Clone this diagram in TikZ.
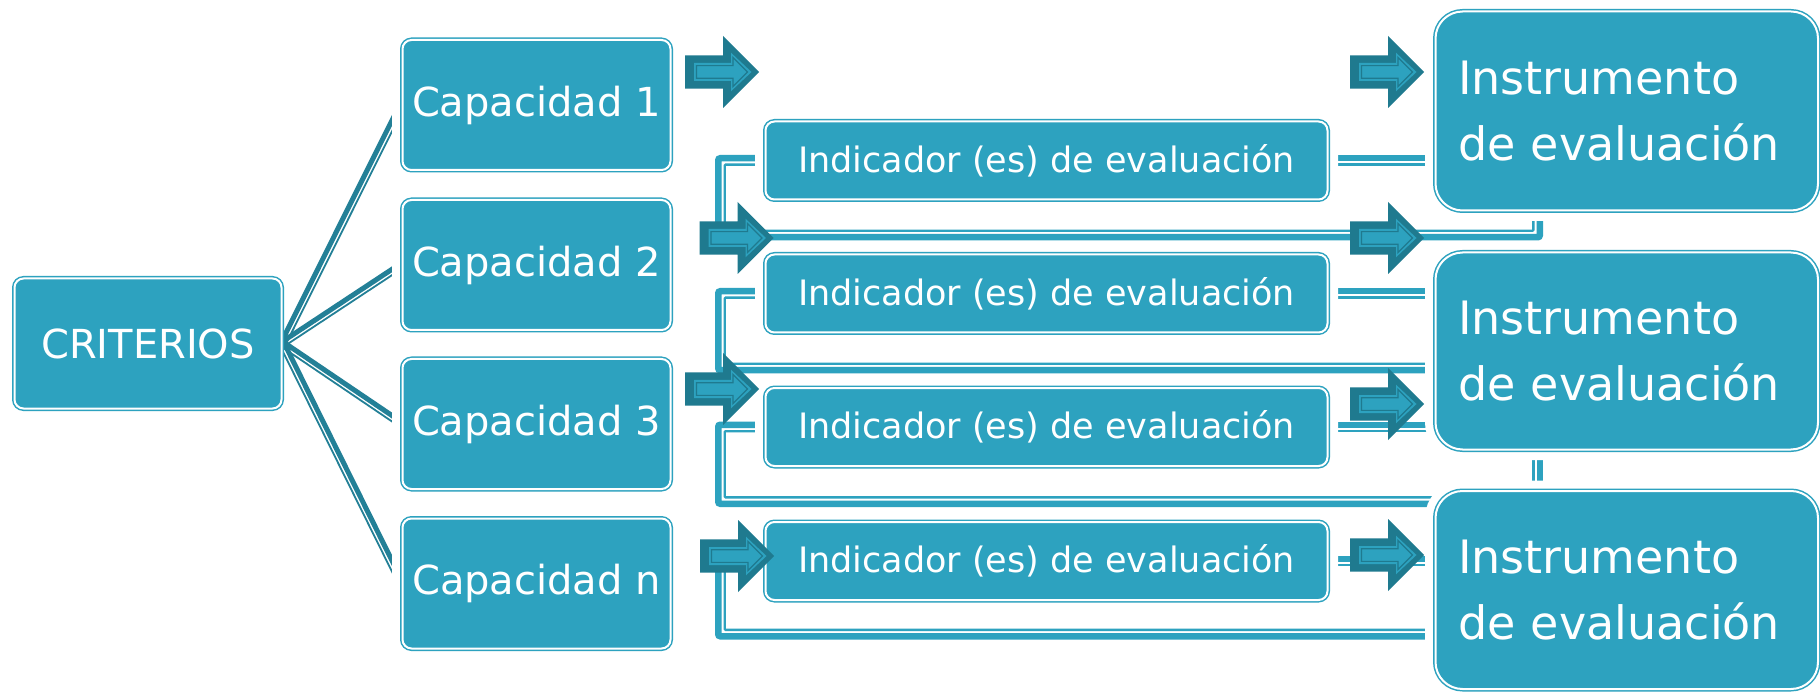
\documentclass[tikz,border=0pt]{standalone}
\usepackage{fontspec}
\setmainfont{DejaVu Sans}
\usetikzlibrary{calc}
\definecolor{boxc}{RGB}{45,162,191}
\definecolor{darkc}{RGB}{31,122,143}
\definecolor{critc}{RGB}{35,128,151}
\pgfdeclarelayer{bg}
\pgfsetlayers{bg,main}
\tikzset{
  halo/.style={preaction={draw=white, line width=21pt}},
  boxbase/.style={preaction={draw=boxc, line width=5pt}, fill=boxc, draw=white, line width=2pt, text=white, inner sep=0pt},
  critbox/.style={boxbase, rounded corners=9pt, minimum width=267pt, minimum height=130pt, font=\fontsize{40}{48}\selectfont},
  capbox/.style={halo, boxbase, rounded corners=9pt, minimum width=268pt, minimum height=130pt, font=\fontsize{40}{48}\selectfont},
  indbox/.style={halo, boxbase, rounded corners=9pt, minimum width=562pt, minimum height=78pt, font=\fontsize{35}{42}\selectfont},
  instbox/.style={halo, boxbase, rounded corners=27pt, text width=337.5pt, inner xsep=22.5pt, align=left, font=\fontsize{46}{66}\selectfont},
  thk/.style={draw=boxc, line width=6.5pt, rounded corners=2pt},
  thn/.style={draw=boxc, line width=2.3pt, rounded corners=1pt},
  cthk/.style={draw=critc, line width=5pt},
  cthn/.style={draw=critc, line width=1.8pt},
  barrow/.pic={
    \fill[darkc] (0,-16.7) -- (38,-16.7) -- (38,-36) -- (74,0) -- (38,36) -- (38,16.7) -- (0,16.7) -- cycle;
    \fill[boxc] (9,-9) -- (46,-9) -- (46,-19.3) -- (66.5,0) -- (46,19.3) -- (46,9) -- (9,9) -- cycle;
    \draw[darkc, line width=1.1pt] (11.5,-6.3) -- (48,-6.3) -- (48,-14.5) -- (62.5,0) -- (48,14.5) -- (48,6.3) -- (11.5,6.3) -- cycle;
  }
}
\newcommand\critlink[1]{%
  \draw[cthk] ($(crit.east)!1.65pt!90:(#1.west)$) -- ($(#1.west)!1.65pt!-90:(crit.east)$);
  \draw[cthn] ($(crit.east)!3.25pt!-90:(#1.west)$) -- ($(#1.west)!3.25pt!90:(crit.east)$);}
\begin{document}
\begin{tikzpicture}[x=1pt,y=-1pt]
\useasboundingbox (0,0) rectangle (1820,692);

% boxes
\node[critbox] (crit) at (148,343.5) {CRITERIOS};
\node[capbox] (cap1) at (536.5,105) {Capacidad 1};
\node[capbox] (cap2) at (536.5,265) {Capacidad 2};
\node[capbox] (cap3) at (536.5,424) {Capacidad 3};
\node[capbox] (capn) at (536.5,583.5) {Capacidad n};
\node[indbox] (ind1) at (1046.5,160.5) {Indicador (es) de evaluación};
\node[indbox] (ind2) at (1046.5,293.5) {Indicador (es) de evaluación};
\node[indbox] (ind3) at (1046.5,427) {Indicador (es) de evaluación};
\node[indbox] (ind4) at (1046.5,561) {Indicador (es) de evaluación};
\node[instbox, minimum height=199pt] (inst1) at (1626.75,111) {Instrumento\\de evaluación};
\node[instbox, minimum height=197pt] (inst2) at (1626.75,351) {Instrumento\\de evaluación};
\node[instbox, minimum height=198pt] (inst3) at (1626.75,590) {Instrumento\\de evaluación};

% connectors (behind the boxes)
\coordinate (c1a) at (720.5,235);
\coordinate (c1b) at (1537.5,235);
\coordinate (c2a) at (720.5,368);
\coordinate (c3a) at (720.5,501.5);
\coordinate (c4a) at (720.5,634);
\begin{pgfonlayer}{bg}
  \fill[white] (0,0) rectangle (1820,692);
  \critlink{cap1}
  \critlink{cap2}
  \critlink{cap3}
  \critlink{capn}
  % indicator 1 to instrument 1
  \draw[thk] ($(ind1.west)+(0,-2.25)$) -| ($(c1a)+(-2.25,2.25)$) -| ($(c1b |- inst1.center)+(2.25,0)$);
  \draw[thn] ($(ind1.west)+(0,4.15)$) -| ($(c1a)+(4.15,-4.15)$) -| ($(c1b |- inst1.center)+(-4.15,0)$);
  % indicator 2 to instrument 2
  \draw[thk] ($(ind2.west)+(0,-2.25)$) -| ($(c2a)+(-2.25,2.25)$) -- ($(c2a -| inst2.center)+(0,2.25)$);
  \draw[thn] ($(ind2.west)+(0,4.15)$) -| ($(c2a)+(4.15,-4.15)$) -- ($(c2a -| inst2.center)+(0,-4.15)$);
  % indicator 3 to instrument 3
  \draw[thk] ($(ind3.west)+(0,-2.25)$) -| ($(c3a)+(-2.25,2.25)$) -- ($(c3a -| inst3.center)+(0,2.25)$);
  \draw[thn] ($(ind3.west)+(0,4.15)$) -| ($(c3a)+(4.15,-4.15)$) -- ($(c3a -| inst3.center)+(0,-4.15)$);
  % indicator 4 to instrument 3
  \draw[thk] ($(ind4.west)+(0,-2.25)$) -| ($(c4a)+(-2.25,2.25)$) -- ($(c4a -| inst3.center)+(0,2.25)$);
  \draw[thn] ($(ind4.west)+(0,4.15)$) -| ($(c4a)+(4.15,-4.15)$) -- ($(c4a -| inst3.center)+(0,-4.15)$);
  % right side links
  \draw[thk] ($(ind1.center)+(0,-2.25)$) -- ($(ind1.center -| inst1.center)+(0,-2.25)$);
  \draw[thn] ($(ind1.center)+(0,4.15)$) -- ($(ind1.center -| inst1.center)+(0,4.15)$);
  \draw[thk] ($(ind2.center)+(0,-2.25)$) -- ($(ind2.center -| inst2.center)+(0,-2.25)$);
  \draw[thn] ($(ind2.center)+(0,4.15)$) -- ($(ind2.center -| inst2.center)+(0,4.15)$);
  \draw[thk] ($(ind3.center)+(0,-2.25)$) -- ($(ind3.center -| inst2.center)+(0,-2.25)$);
  \draw[thn] ($(ind3.center)+(0,4.15)$) -- ($(ind3.center -| inst2.center)+(0,4.15)$);
  \draw[thk] ($(ind4.center)+(0,-2.25)$) -- ($(ind4.center -| inst3.center)+(0,-2.25)$);
  \draw[thn] ($(ind4.center)+(0,4.15)$) -- ($(ind4.center -| inst3.center)+(0,4.15)$);
  % instrument 2 to instrument 3
  \draw[thk] ($(c1b |- inst2.center)+(2.25,0)$) -- ($(c1b |- inst3.center)+(2.25,0)$);
  \draw[thn] ($(c1b |- inst2.center)+(-4.15,0)$) -- ($(c1b |- inst3.center)+(-4.15,0)$);
\end{pgfonlayer}

% block arrows
\pic at (685,72) {barrow};
\pic at (1350,72) {barrow};
\pic at (699.5,238) {barrow};
\pic at (1350,238) {barrow};
\pic at (685,389) {barrow};
\pic at (1350,404) {barrow};
\pic at (700,556) {barrow};
\pic at (1350,555) {barrow};
\end{tikzpicture}
\end{document}
